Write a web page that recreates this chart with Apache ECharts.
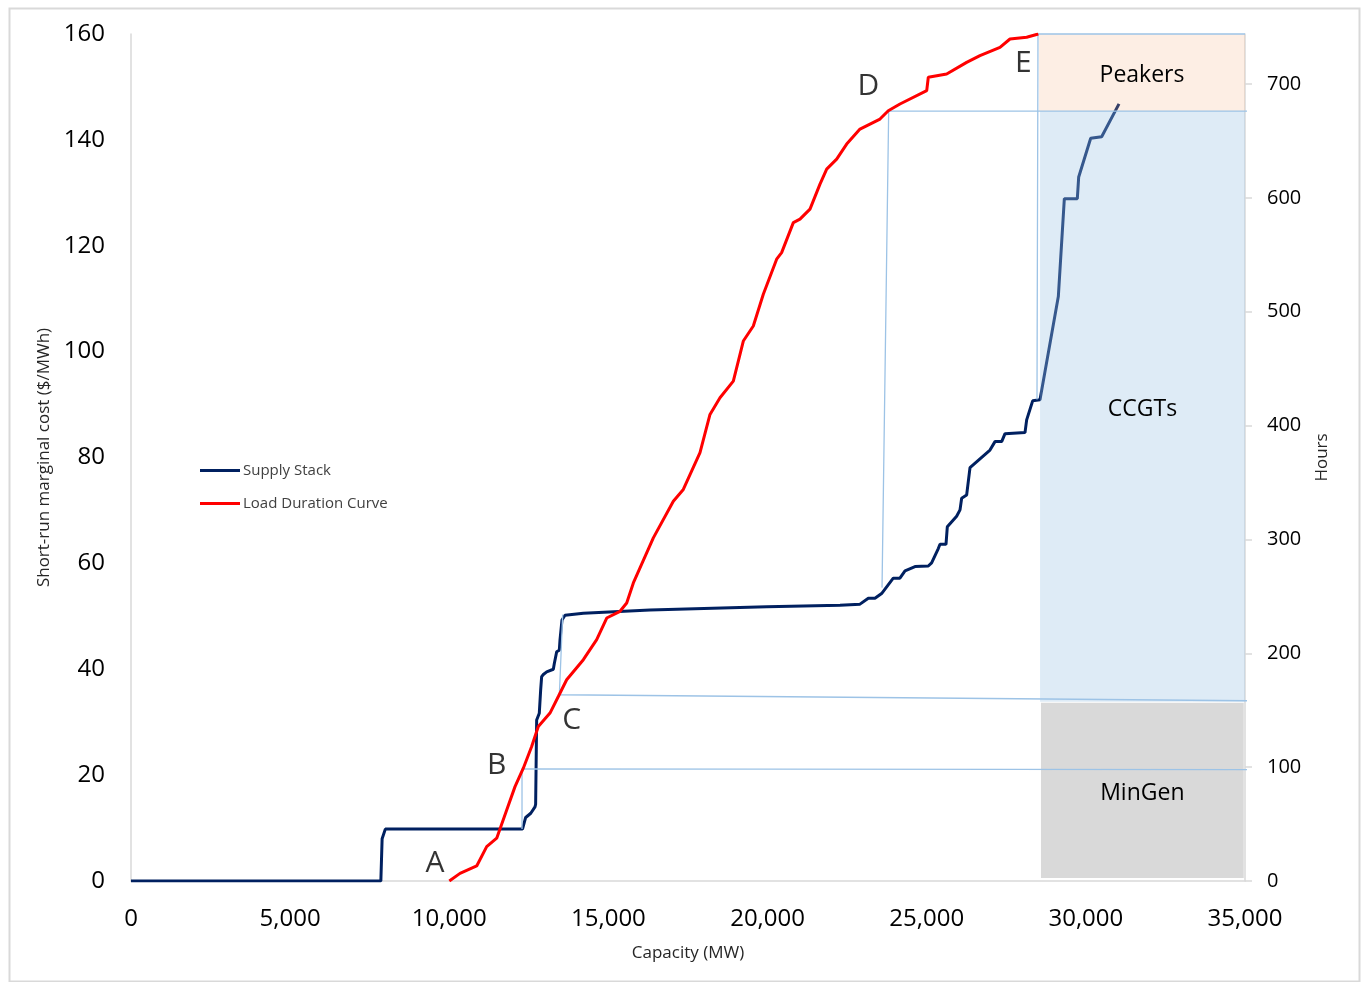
<!DOCTYPE html>
<html>
<head>
<meta charset="utf-8">
<script src="https://cdn.jsdelivr.net/npm/echarts@6/dist/echarts.min.js"></script>
<style>
html,body{margin:0;padding:0;background:#fff;}
#chart{width:1364px;height:982px;}
</style>
</head>
<body>
<div id="chart"></div>
<script>
// ---------- data ----------
const supplyMW = [0, 7850, 7890, 7990, 12300, 12400, 12560, 12693, 12713, 12745, 12828, 12871, 12902, 12955,
  13060, 13269, 13300, 13374, 13457, 13478, 13541, 13636, 14212, 16306, 19973, 22276, 22904, 23165, 23374,
  23583, 23949, 24158, 24318, 24632, 25050, 25154, 25364, 25417, 25606, 25647, 25940, 26046, 26098, 26254,
  26360, 26988, 27145, 27355, 27460, 28088, 28140, 28329, 28559, 29135, 29324, 29732, 29775, 30152, 30497, 31041];
const supplyCost = [0, 0, 8.0, 9.8, 9.8, 12.0, 12.8, 14.0, 14.5, 30.4, 31.7, 36.1, 38.6, 39.0,
  39.5, 40.0, 41.1, 43.3, 43.6, 45.5, 49.3, 50.2, 50.6, 51.2, 51.8, 52.1, 52.3, 53.4, 53.4,
  54.3, 57.2, 57.2, 58.6, 59.4, 59.5, 60.1, 62.8, 63.6, 63.6, 66.9, 68.9, 70.1, 72.3, 72.9,
  78.1, 81.4, 83.0, 83.0, 84.5, 84.7, 87.1, 90.7, 90.9, 110.4, 128.9, 128.9, 133.0, 140.3, 140.6, 146.8];

const ldcMW = [10001, 10337, 10861, 11175, 11490, 11804, 12065, 12326, 12588, 12797, 13164, 13426, 13688,
  14212, 14631, 14946, 15364, 15574, 15783, 16411, 17039, 17353, 17877, 18191, 18505, 18924, 19238, 19552,
  19866, 20285, 20442, 20809, 21019, 21333, 21647, 21857, 22171, 22485, 22904, 23532, 23793, 24160, 25000,
  25050, 25627, 26254, 26673, 27302, 27616, 28140, 28506];
const ldcHours = [0, 6.7, 13.2, 30.2, 37.6, 62.4, 82.9, 99.1, 118.1, 135.7, 147.5, 162.1, 176.8,
  194.4, 212.0, 231.0, 236.9, 244.2, 261.8, 301.4, 333.6, 343.9, 376.2, 409.8, 424.5, 439.1, 474.3, 487.5,
  515.4, 546.2, 552.0, 578.3, 581.4, 590.2, 612.1, 625.3, 634.1, 647.3, 660.5, 669.3, 676.6, 682.5, 694.2,
  706.0, 708.8, 719.1, 725.0, 732.3, 739.6, 741.1, 744.0];

// guide lines (MW, hours)
const guideB = [[12285, 45.7], [12285, 98.5], [35150, 97.8]];
const guideC = [[13563, 234.0], [13458, 163.6], [35150, 158.3]];
const guideD = [[23596, 257.7], [23805, 676.3], [35150, 676.3]];
const guideE = [[28465, 423.0], [28496, 744.0], [35000, 744.0]];

// technology bands (MW range, hours range)
const regionNames = ['MinGen', 'CCGTs', 'Peakers'];
const regionStartMW = [28590, 28560, 28530];
const regionEndMW = [34960, 35000, 35000];
const regionLowHours = [2.6, 157.5, 676.3];
const regionHighHours = [156.6, 676.3, 744];

// point annotations (MW, $/MWh)
const annotationNames = ['A', 'B', 'C', 'D', 'E'];
const annotationMW = [9551, 11489, 13845, 23165, 28035];
const annotationCost = [3.3, 21.9, 30.4, 150.0, 154.5];

// axes
const xMax = 35000, xStep = 5000;
const costMax = 160, costStep = 20;
const hoursMax = 744, hoursStep = 100;

// ---------- chart ----------
const FONT = 'Open Sans';
const regionFill = ['#D9D9D9', 'rgba(157,195,230,0.34)', 'rgba(244,177,131,0.22)'];
const guideColor = '#9DC3E6';

const chart = echarts.init(document.getElementById('chart'), null, {renderer: 'canvas'});

function guideSeries(pts) {
  return {
    type: 'line', yAxisIndex: 1, data: pts, symbol: 'none', clip: false, silent: true, z: 4,
    lineStyle: {color: guideColor, width: 1.3}, tooltip: {show: false}
  };
}

const option = {
  backgroundColor: '#fff',
  animation: false,
  textStyle: {fontFamily: FONT},
  graphic: [{
    type: 'rect', left: 7, top: 6, silent: true,
    shape: {width: 1350, height: 973},
    style: {fill: 'none', stroke: '#D9D9D9', lineWidth: 2}
  }],
  grid: {left: 131, right: 119, top: 34, bottom: 101, containLabel: false},
  legend: {
    orient: 'vertical', left: 195, top: 458, itemWidth: 40, itemHeight: 3, itemGap: 18,
    icon: 'rect',
    data: ['Supply Stack', 'Load Duration Curve'],
    textStyle: {fontFamily: FONT, fontSize: 15, color: '#404040', padding: [0, 0, 0, -2]}
  },
  xAxis: {
    type: 'value', min: 0, max: xMax, interval: xStep,
    name: 'Capacity (MW)', nameLocation: 'middle', nameGap: 64,
    nameTextStyle: {fontFamily: FONT, fontSize: 17, color: '#262626'},
    axisLine: {show: true, lineStyle: {color: '#D9D9D9', width: 1.5}},
    axisTick: {show: false},
    splitLine: {show: false},
    axisLabel: {fontFamily: FONT, fontSize: 24, color: '#000', margin: 26,
      formatter: v => v.toLocaleString('en-US')}
  },
  yAxis: [{
    type: 'value', position: 'left', min: 0, max: costMax, interval: costStep,
    name: 'Short-run marginal cost ($/MWh)', nameLocation: 'middle', nameGap: 76,
    nameTextStyle: {fontFamily: FONT, fontSize: 17, color: '#262626'},
    axisLine: {show: true, lineStyle: {color: '#D9D9D9', width: 1.5}},
    axisTick: {show: false},
    splitLine: {show: false},
    axisLabel: {fontFamily: FONT, fontSize: 24, color: '#000', margin: 26}
  }, {
    type: 'value', position: 'right', min: 0, max: hoursMax, interval: hoursStep,
    name: 'Hours', nameLocation: 'middle', nameGap: 69, nameRotate: 90,
    nameTextStyle: {fontFamily: FONT, fontSize: 17, color: '#262626'},
    axisLine: {show: true, lineStyle: {color: '#D9D9D9', width: 1.5}},
    axisTick: {show: true, inside: false, length: 7, lineStyle: {color: '#D9D9D9', width: 1.5}},
    splitLine: {show: false},
    axisLabel: {fontFamily: FONT, fontSize: 20, color: '#000', margin: 22, showMaxLabel: false}
  }],
  series: [
    {
      name: 'Supply Stack', type: 'line', yAxisIndex: 0, symbol: 'none', z: 2,
      data: supplyMW.map((x, i) => [x, supplyCost[i]]),
      lineStyle: {color: '#002060', width: 3}, itemStyle: {color: '#002060'}
    },
    {
      name: 'Load Duration Curve', type: 'line', yAxisIndex: 1, symbol: 'none', z: 5,
      data: ldcMW.map((x, i) => [x, ldcHours[i]]),
      lineStyle: {color: '#FF0000', width: 3}, itemStyle: {color: '#FF0000'}
    },
    {
      type: 'custom', yAxisIndex: 1, z: 3, silent: true,
      encode: {x: [0, 1], y: [2, 3]},
      data: regionNames.map((n, i) => [regionStartMW[i], regionEndMW[i], regionLowHours[i], regionHighHours[i]]),
      renderItem: function (params, api) {
        const i = params.dataIndex;
        const p0 = api.coord([api.value(0), api.value(3)]);
        const p1 = api.coord([api.value(1), api.value(2)]);
        return {
          type: 'group',
          children: [{
            type: 'rect',
            shape: {x: p0[0], y: p0[1], width: p1[0] - p0[0], height: p1[1] - p0[1]},
            style: {fill: regionFill[i], stroke: null}
          }, {
            type: 'text',
            style: {
              text: regionNames[i], x: (p0[0] + p1[0]) / 2, y: (p0[1] + p1[1]) / 2 + 3,
              align: 'center', verticalAlign: 'middle',
              font: '23px "' + FONT + '"', fill: '#000'
            }
          }]
        };
      }
    },
    guideSeries(guideB),
    guideSeries(guideC),
    guideSeries(guideD),
    guideSeries(guideE),
    {
      type: 'scatter', yAxisIndex: 0, symbolSize: 0, z: 6, silent: true,
      data: annotationNames.map((n, i) => ({name: n, value: [annotationMW[i], annotationCost[i]]})),
      label: {show: true, position: 'inside', formatter: p => p.name,
        fontFamily: FONT, fontSize: 30, color: '#000'}
    }
  ]
};
chart.setOption(option);
</script>
</body>
</html>
